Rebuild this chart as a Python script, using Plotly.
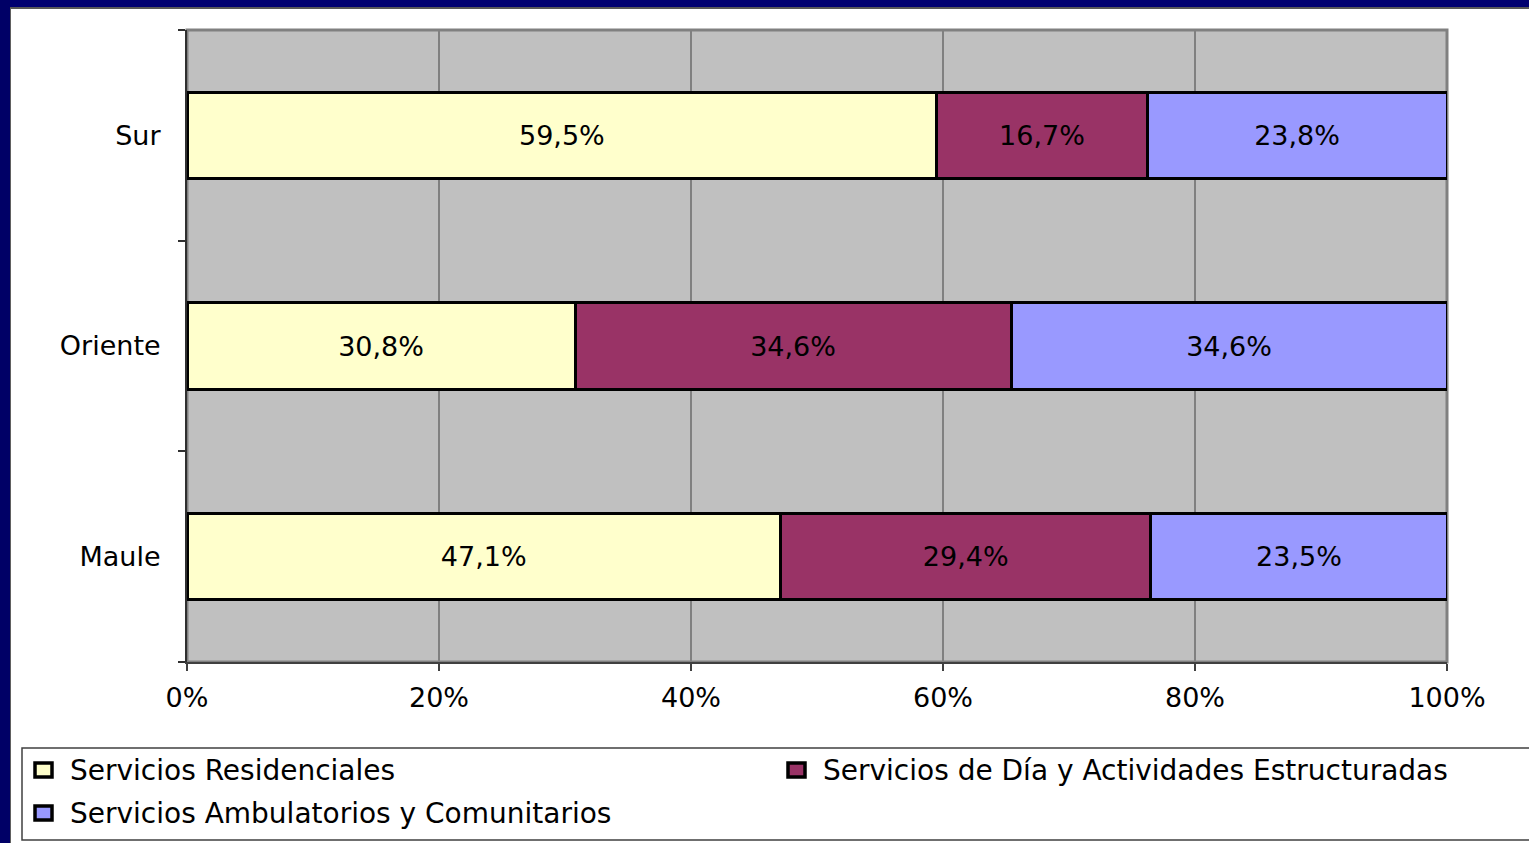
import plotly.graph_objects as go

categories = ["Maule", "Oriente", "Sur"]
series_names = [
    "Servicios Residenciales",
    "Servicios de Día y Actividades Estructuradas",
    "Servicios Ambulatorios y Comunitarios",
]
residenciales = [47.1, 30.8, 59.5]
dia = [29.4, 34.6, 16.7]
ambulatorios = [23.5, 34.6, 23.8]
x_ticks = [0, 20, 40, 60, 80, 100]

colors = ["#FFFFCC", "#993366", "#9999FF"]
FONT = "DejaVu Sans"

W, H = 1529, 843
L, R, T, B = 187, 1447, 30, 662


def px_x(p):
    return (p - L) / (R - L)


def px_y(p):
    return (B - p) / (B - T)


def fmt(v):
    return f"{v:.1f}%".replace(".", ",")


fig = go.Figure()
for name, vals, col in zip(series_names, [residenciales, dia, ambulatorios], colors):
    fig.add_trace(go.Bar(
        y=categories, x=vals, name=name, orientation="h",
        marker=dict(color=col, line=dict(color="black", width=3)),
        text=[fmt(v) for v in vals], textposition="inside",
        insidetextanchor="middle", constraintext="none",
        textfont=dict(family=FONT, size=27, color="black"),
        hoverinfo="skip", showlegend=False,
    ))

shapes = []
# plot border (top/right gray)
shapes.append(dict(type="rect", xref="paper", yref="paper", x0=0, x1=1, y0=0, y1=1,
                   line=dict(color="#808080", width=3), layer="below"))
# navy frame
shapes.append(dict(type="rect", xref="paper", yref="paper",
                   x0=px_x(-5), x1=px_x(W + 5), y0=px_y(-5), y1=px_y(7),
                   fillcolor="#000070", line=dict(width=0), layer="above"))
shapes.append(dict(type="rect", xref="paper", yref="paper",
                   x0=px_x(-5), x1=px_x(10), y0=px_y(H + 5), y1=px_y(-5),
                   fillcolor="#000066", line=dict(width=0), layer="above"))
shapes.append(dict(type="line", xref="paper", yref="paper",
                   x0=px_x(10), x1=px_x(W + 5), y0=px_y(8), y1=px_y(8),
                   line=dict(color="#202020", width=1.5), layer="above"))
shapes.append(dict(type="line", xref="paper", yref="paper",
                   x0=px_x(10.5), x1=px_x(10.5), y0=px_y(8), y1=px_y(H + 5),
                   line=dict(color="#606060", width=1), layer="above"))
# legend box
shapes.append(dict(type="rect", xref="paper", yref="paper",
                   x0=px_x(22), x1=px_x(W + 10), y0=px_y(840), y1=px_y(748),
                   line=dict(color="#404040", width=1.5), fillcolor="white", layer="above"))

annotations = []
legend_pos = [(35, 68, 770), (788, 821, 770), (35, 68, 813)]
for name, col, (mx, tx, cy) in zip(series_names, colors, legend_pos):
    shapes.append(dict(type="rect", xref="paper", yref="paper",
                       x0=px_x(mx), x1=px_x(mx + 17), y0=px_y(cy + 7), y1=px_y(cy - 7),
                       fillcolor=col, line=dict(color="black", width=3.5), layer="above"))
    annotations.append(dict(xref="paper", yref="paper", x=px_x(tx), y=px_y(cy),
                            xanchor="left", yanchor="middle", showarrow=False,
                            text=name, font=dict(family=FONT, size=28, color="black")))

fig.update_layout(
    width=W, height=H,
    margin=dict(l=L, r=W - R, t=T, b=H - B, pad=0),
    paper_bgcolor="white", plot_bgcolor="#C0C0C0",
    barmode="stack", bargap=0.59,
    shapes=shapes, annotations=annotations,
    font=dict(family=FONT, color="black"),
    xaxis=dict(range=[0, 100], tickvals=x_ticks, ticktext=[f"{t}%" for t in x_ticks],
               showgrid=True, gridcolor="#808080", gridwidth=2, zeroline=False,
               showline=True, linecolor="#404040", linewidth=2,
               ticks="outside", ticklen=7, tickcolor="#404040", tickwidth=1.5,
               ticklabelstandoff=4,
               tickfont=dict(family=FONT, size=27, color="black"), fixedrange=True),
    yaxis=dict(categoryorder="array", categoryarray=categories,
               showgrid=False, zeroline=False, showline=True, linecolor="#303030", linewidth=2,
               ticks="outside", ticklen=7, tickcolor="#303030", tickwidth=1.5,
               tickson="boundaries", ticklabelstandoff=19,
               tickfont=dict(family=FONT, size=27, color="black"), fixedrange=True),
)

fig.write_html(
    "out.html",
    config={"displayModeBar": False},
    post_script="document.body.style.margin='0';document.body.style.overflow='hidden';",
)
